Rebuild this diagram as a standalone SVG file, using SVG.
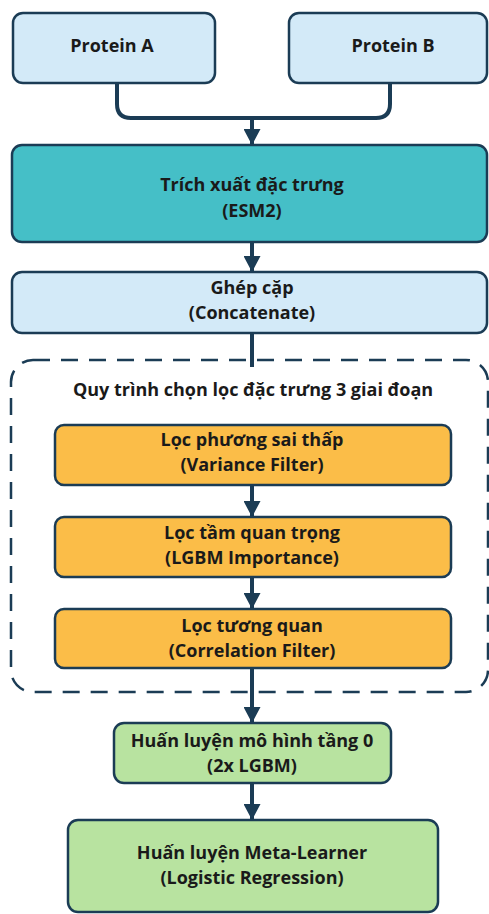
<svg xmlns="http://www.w3.org/2000/svg" width="489" height="914" viewBox="0 0 489 914">
  <defs>
    <marker id="arrow" viewBox="0 0 16 17" refX="16" refY="8.5" markerWidth="16" markerHeight="17" markerUnits="userSpaceOnUse" orient="auto">
      <path d="M0,0 L16,8.5 L0,17 z" fill="#1b3c55"/>
    </marker>
    <style>
      .box { stroke: #1b3c55; stroke-width: 2.5; }
      .blue { fill: #d3eaf8; }
      .teal { fill: #45bfc7; }
      .orange { fill: #fbbd48; }
      .green { fill: #b8e3a0; }
      .label { font-family: "Open Sans", "Noto Sans", "DejaVu Sans", sans-serif; font-weight: bold; font-size: 18px; fill: #1a1a1a; text-anchor: middle; }
      .edge { fill: none; stroke: #1b3c55; stroke-width: 4; }
      .frame { fill: none; stroke: #1b3c55; stroke-width: 2.5; stroke-dasharray: 17 11; }
    </style>
  </defs>
  <rect width="489" height="914" fill="#ffffff"/>

  <!-- selection stage frame -->
  <g id="selection-frame">
    <rect class="frame" x="11" y="360" width="477" height="332" rx="22"/>
    <text class="label" x="253" y="396">Quy trình chọn lọc đặc trưng 3 giai đoạn</text>
  </g>

  <!-- connectors -->
  <g id="connectors">
    <path class="edge" d="M117,83 V104 Q117,118 131,118 H376 Q390,118 390,104 V83"/>
    <path class="edge" d="M252,118 V145" marker-end="url(#arrow)"/>
    <path class="edge" d="M252,242 V272" marker-end="url(#arrow)"/>
    <path class="edge" d="M252,333 V367"/>
    <path class="edge" d="M252,485 V517" marker-end="url(#arrow)"/>
    <path class="edge" d="M252,577 V609" marker-end="url(#arrow)"/>
    <path class="edge" d="M252,668 V723" marker-end="url(#arrow)"/>
    <path class="edge" d="M252,783 V820" marker-end="url(#arrow)"/>
  </g>

  <g id="protein-a">
    <rect class="box blue" x="13" y="13" width="202" height="70" rx="10"/>
    <text class="label" x="112" y="52">Protein A</text>
  </g>
  <g id="protein-b">
    <rect class="box blue" x="289" y="13" width="198" height="70" rx="10"/>
    <text class="label" x="393" y="52">Protein B</text>
  </g>
  <g id="esm2">
    <rect class="box teal" x="12" y="145" width="475" height="97" rx="10"/>
    <text class="label" x="252" y="191">Trích xuất đặc trưng</text>
    <text class="label" x="252" y="217">(ESM2)</text>
  </g>
  <g id="concat">
    <rect class="box blue" x="12" y="272" width="475" height="61" rx="10"/>
    <text class="label" x="252" y="294">Ghép cặp</text>
    <text class="label" x="252" y="319">(Concatenate)</text>
  </g>
  <g id="variance-filter">
    <rect class="box orange" x="55" y="425" width="396" height="60" rx="9"/>
    <text class="label" x="252" y="446">Lọc phương sai thấp</text>
    <text class="label" x="252" y="471">(Variance Filter)</text>
  </g>
  <g id="importance-filter">
    <rect class="box orange" x="55" y="517" width="396" height="60" rx="9"/>
    <text class="label" x="252" y="539">Lọc tầm quan trọng</text>
    <text class="label" x="252" y="564">(LGBM Importance)</text>
  </g>
  <g id="correlation-filter">
    <rect class="box orange" x="55" y="609" width="396" height="59" rx="9"/>
    <text class="label" x="252" y="632">Lọc tương quan</text>
    <text class="label" x="252" y="657">(Correlation Filter)</text>
  </g>
  <g id="base-models">
    <rect class="box green" x="114" y="723" width="277" height="60" rx="10"/>
    <text class="label" x="252" y="747">Huấn luyện mô hình tầng 0</text>
    <text class="label" x="252" y="772">(2x LGBM)</text>
  </g>
  <g id="meta-learner">
    <rect class="box green" x="68" y="820" width="370" height="92" rx="10"/>
    <text class="label" x="252" y="859">Huấn luyện Meta-Learner</text>
    <text class="label" x="252" y="884">(Logistic Regression)</text>
  </g>
</svg>
